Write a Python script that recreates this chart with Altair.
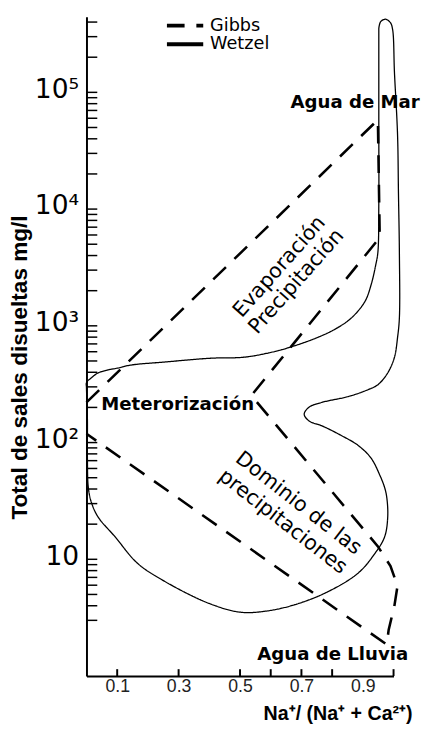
import altair as alt
import pandas as pd

# ---- Wetzel field (closed loop) ----
wetzel_x = [0.952, 0.952, 0.952, 0.949, 0.942, 0.927, 0.907, 0.863, 0.812, 0.751, 0.661, 0.588, 0.511, 0.406,
            0.252, 0.144, 0.102, 0.070, 0.038, 0.016, 0.0, 0.0,
            0.003, 0.003, 0.006, 0.016, 0.038, 0.093, 0.166, 0.252, 0.399, 0.502, 0.581, 0.671, 0.780, 0.885, 0.939,
            0.971, 0.981, 0.978, 0.971, 0.955, 0.927, 0.885, 0.831, 0.767, 0.725, 0.709, 0.725, 0.767, 0.853, 0.917,
            0.949, 0.981, 1.003, 1.013, 1.019, 1.019, 1.016, 1.013, 1.003, 0.997, 0.990, 0.974, 0.958, 0.952]
wetzel_y = [352000, 52800, 11200, 4270, 3320, 2250, 1620, 1170, 944, 792, 653, 582, 538, 528,
            489, 461, 435, 419, 395, 359, 326, 296,
            159, 73.4, 41.1, 30.7, 23.0, 15.6, 9.25, 6.53, 4.19, 3.52, 3.59, 4.03, 5.18, 7.63, 11.2,
            15.6, 23.0, 33.8, 41.1, 52.8, 73.4, 94.4, 114.5, 139, 153, 175, 201, 221, 248, 284,
            313, 395, 538, 792, 1170, 4270, 13600, 43500, 147000, 345000, 395000, 423000, 403000, 352000]

# ---- Gibbs boomerang ----
gibbs_x = [0.0, 0.949, 0.955, 0.537, 0.949, 0.990, 1.013, 1.003, 0.984, 0.978, 0.0]
gibbs_y = [221, 58200, 5700, 253, 12.9, 8.73, 5.93, 4.03, 2.48, 1.86, 119]

# ---- ticks ----
y_major = [10, 100, 1000, 10000, 100000]
y_ticks = [3, 4, 5, 6, 7, 8, 9,
           10, 20, 30, 40, 50, 60, 70, 80, 90,
           100, 200, 300, 400, 500, 600, 700, 800, 900,
           1000, 2000, 3000, 4000, 5000, 6000, 7000, 8000, 9000,
           10000, 20000, 30000, 40000, 50000, 60000, 70000, 80000, 90000,
           100000, 200000, 300000, 400000]
x_labels = [0.1, 0.3, 0.5, 0.7, 0.9]
x_ticks = [0.1, 0.3, 0.5, 0.6, 0.7, 0.8, 1.0]

# ---- annotations ----
bold_text = ["Agua de Mar", "Meterorización", "Agua de Lluvia"]
bold_x = [0.875, 0.297, 0.802]
bold_y = [82400, 213, 1.53]
evap_text = ["Evaporación", "Precipitación"]
evap_x = [0.629, 0.684]
evap_y = [3190, 2389]
dom_text = ["Dominio de las", "precipitaciones"]
dom_x = [0.690, 0.639]
dom_y = [30.1, 20.9]

W, H = 313, 672

wetzel = pd.DataFrame({"x": wetzel_x, "y": wetzel_y, "i": range(len(wetzel_x)), "series": "Wetzel"})
gibbs = pd.DataFrame({"x": gibbs_x, "y": gibbs_y, "i": range(len(gibbs_x)), "series": "Gibbs"})
df_yt = pd.DataFrame({"y": y_ticks})
df_xt = pd.DataFrame({"x": x_ticks})
df_bold = pd.DataFrame({"x": bold_x, "y": bold_y, "t": bold_text})
df_evap = pd.DataFrame({"x": evap_x, "y": evap_y, "t": evap_text})
df_dom = pd.DataFrame({"x": dom_x, "y": dom_y, "t": dom_text})

xaxis = alt.Axis(values=x_labels, format=".1f", ticks=False, tickSize=0, grid=False,
                 domainColor="black", domainWidth=2,
                 labelFont="Liberation Sans", labelFontSize=18, labelColor="#222", labelPadding=2,
                 title="Na⁺/ (Na⁺ + Ca²⁺)", titleFont="Liberation Sans", titleFontSize=20,
                 titleFontWeight="bold", titleColor="black", titleX=256, titleY=38,
                 titleAlign="center", titleBaseline="middle")
yaxis = alt.Axis(values=y_major, ticks=False, tickSize=0, grid=False, labelOverlap=False,
                 labelExpr="datum.value < 50 ? '10\u00a0' : datum.value < 500 ? '10²' : datum.value < 5000 ? '10³' : datum.value < 50000 ? '10⁴' : '10⁵'",
                 domainColor="black", domainWidth=2,
                 labelFont="DejaVu Sans", labelFontSize=27, labelColor="black", labelPadding=8,
                 labelOffset=-3,
                 title="Total de sales disueltas mg/l", titleFont="Liberation Sans", titleFontSize=23,
                 titleFontWeight="bold", titleColor="black", titleX=-68, titleY=357, titleAngle=270,
                 titleAlign="center", titleBaseline="middle")

xs = alt.Scale(domain=[0, 1], nice=False, zero=False)
ys = alt.Scale(type="log", domain=[1, 444000], nice=False)
X = alt.X("x:Q", scale=xs, axis=xaxis)
Y = alt.Y("y:Q", scale=ys, axis=yaxis)

legend = alt.Legend(title=None, orient="none", legendX=80, legendY=0, symbolType="stroke",
                    symbolSize=1369, symbolStrokeWidth=4, symbolStrokeColor="black",
                    labelFont="DejaVu Sans", labelFontSize=18, labelColor="black", labelOffset=5,
                    clipHeight=18, rowPadding=1, padding=0)
dash = alt.StrokeDash("series:N", scale=alt.Scale(domain=["Gibbs", "Wetzel"], range=[[18, 12], [1, 0]]),
                      legend=legend)

wetzel_line = alt.Chart(wetzel).mark_line(color="black", strokeWidth=1.3, interpolate="catmull-rom").encode(
    x=X, y=Y, order="i:Q", strokeDash=dash)
gibbs_line = alt.Chart(gibbs).mark_line(color="black", strokeWidth=2.6, strokeCap="butt").encode(
    x=X, y=Y, order="i:Q", strokeDash=dash)

yticks = alt.Chart(df_yt).mark_rule(color="black", strokeWidth=1.5).encode(
    y=Y, x=alt.value(0), x2=alt.value(11))
xticks = alt.Chart(df_xt).mark_rule(color="black", strokeWidth=2).encode(
    x=X, y=alt.value(H), y2=alt.value(H - 7))

bold = alt.Chart(df_bold).mark_text(font="DejaVu Sans", fontWeight="bold", fontSize=18.5, color="black",
                                    align="center", baseline="middle").encode(x=X, y=Y, text="t:N")
evap = alt.Chart(df_evap).mark_text(font="DejaVu Sans", fontSize=21, color="black", angle=311.5,
                                    align="center", baseline="middle").encode(x=X, y=Y, text="t:N")
dom = alt.Chart(df_dom).mark_text(font="DejaVu Sans", fontSize=21, color="black", angle=38,
                                  align="center", baseline="middle").encode(x=X, y=Y, text="t:N")

chart = alt.layer(gibbs_line, wetzel_line, yticks, xticks, bold, evap, dom).properties(
    width=W, height=H,
    autosize=alt.AutoSizeParams(type="none"),
    padding={"left": 80, "top": 2, "right": 29, "bottom": 45},
    background="white",
).configure_view(stroke=None)

chart.save("out.html", embed_options={"renderer": "svg", "actions": False})
